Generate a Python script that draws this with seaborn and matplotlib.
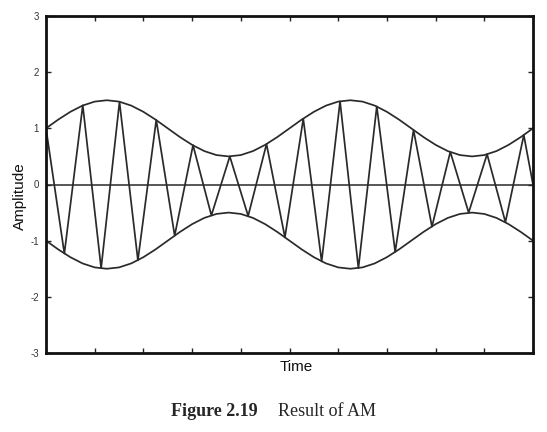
import numpy as np
import pandas as pd
import matplotlib
matplotlib.use("Agg")
import matplotlib.pyplot as plt
import seaborn as sns

# ---- data ----
# upper envelope, sampled every 0.25 time units from 0 to 10
env_time = [i * 0.25 for i in range(41)]
env_upper = [1.000, 1.155, 1.294, 1.405, 1.476, 1.500, 1.476, 1.405, 1.294, 1.155,
             1.000, 0.845, 0.706, 0.595, 0.524, 0.500, 0.524, 0.595, 0.706, 0.845,
             1.000, 1.155, 1.294, 1.405, 1.476, 1.500, 1.476, 1.405, 1.294, 1.155,
             1.000, 0.845, 0.706, 0.595, 0.524, 0.500, 0.524, 0.595, 0.706, 0.845,
             1.000]

# modulated carrier: successive peaks / troughs (time, amplitude)
carrier_time = [0.000, 0.377, 0.755, 1.132, 1.509, 1.887, 2.264, 2.642, 3.019, 3.396,
                3.774, 4.151, 4.528, 4.906, 5.283, 5.660, 6.038, 6.415, 6.792, 7.170,
                7.547, 7.925, 8.302, 8.679, 9.057, 9.434, 9.811, 10.000]
carrier_amp = [1.00, -1.23, 1.41, -1.49, 1.47, -1.35, 1.15, -0.91, 0.70, -0.55,
               0.50, -0.56, 0.72, -0.94, 1.17, -1.37, 1.48, -1.49, 1.39, -1.20,
               0.97, -0.75, 0.58, -0.50, 0.54, -0.67, 0.88, 0.00]

y_ticks = [-3, -2, -1, 0, 1, 2, 3]
y_tick_labels = ["-3", "-2", "-1", "0", "1", "2", "3"]
x_ticks = list(range(0, 11))

# ---- styling ----
sns.set_theme(style="ticks")
plt.rcParams["font.family"] = ["Liberation Sans", "DejaVu Sans"]

fig = plt.figure(figsize=(5.47, 4.32), dpi=100)
ax = fig.add_axes([46 / 547, 1 - 353 / 432, (533 - 46) / 547, (353 - 16) / 432])

line_color = "#2a2a2a"
env_df = pd.DataFrame({"t": env_time, "up": env_upper,
                       "low": [-v for v in env_upper]})
car_df = pd.DataFrame({"t": carrier_time, "a": carrier_amp})

sns.lineplot(data=env_df, x="t", y="up", ax=ax, color=line_color, lw=1.25,
             sort=False, estimator=None)
sns.lineplot(data=env_df, x="t", y="low", ax=ax, color=line_color, lw=1.25,
             sort=False, estimator=None)
sns.lineplot(data=car_df, x="t", y="a", ax=ax, color=line_color, lw=1.25,
             sort=False, estimator=None)
ax.axhline(0, color=line_color, lw=1.1)

ax.set_xlim(0, 10)
ax.set_ylim(-3, 3)
ax.set_xticks(x_ticks)
ax.set_xticklabels([])
ax.set_yticks(y_ticks)
ax.set_yticklabels(y_tick_labels, fontsize=7, color="#333333")
ax.tick_params(axis="both", direction="in", length=3.5, width=1.0,
               top=True, right=True, colors="#222222", pad=5)
ax.tick_params(axis="y", labelcolor="#333333")
for s in ax.spines.values():
    s.set_linewidth(2.0)
    s.set_color("#111111")

ax.set_xlabel("Time", fontsize=11, color="#111111")
ax.set_ylabel("Amplitude", fontsize=11, color="#111111")
ax.xaxis.set_label_coords((296 - 46) / 487, -(367 - 353) / 337, transform=None)
ax.xaxis.label.set_va("center")
ax.xaxis.set_label_coords((296 - 46) / 487, -(367 - 353) / 337)
ax.yaxis.set_label_coords(-(46 - 20) / 487, (353 - 196) / 337)
ax.yaxis.label.set_va("center")

serif = ["Liberation Serif", "DejaVu Serif"]
fig.text(258 / 547, 1 - 412 / 432, "Figure 2.19", ha="right", va="center",
         fontsize=13, fontweight="bold", family=serif)
fig.text(278 / 547, 1 - 412 / 432, "Result of AM", ha="left", va="center",
         fontsize=13, family=serif)

fig.savefig("out.png", dpi=100, facecolor="white")
